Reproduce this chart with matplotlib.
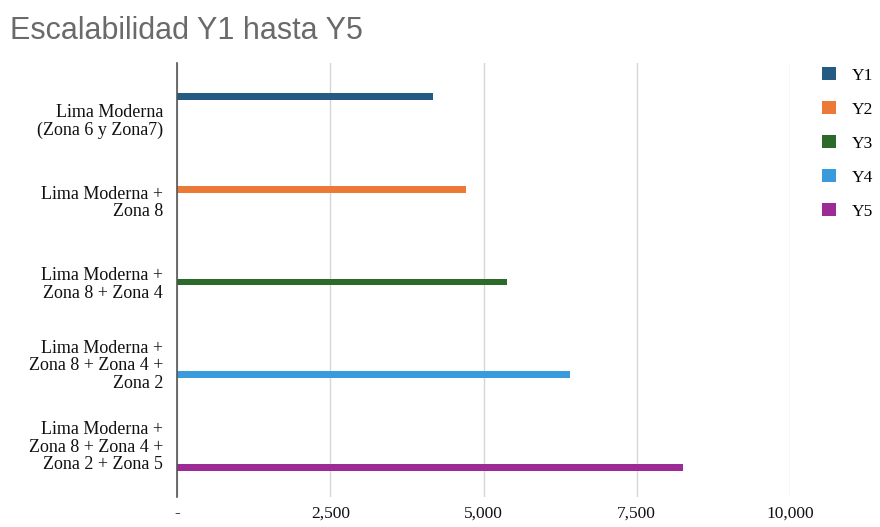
import matplotlib
matplotlib.use("Agg")
import matplotlib.pyplot as plt
import numpy as np

# Data
categories = [
    "Lima Moderna\n(Zona 6 y Zona7)",
    "Lima Moderna +\nZona 8",
    "Lima Moderna +\nZona 8 + Zona 4",
    "Lima Moderna +\nZona 8 + Zona 4 +\nZona 2",
    "Lima Moderna +\nZona 8 + Zona 4 +\nZona 2 + Zona 5",
]
series_names = ["Y1", "Y2", "Y3", "Y4", "Y5"]
y1 = [4180, 0, 0, 0, 0]
y2 = [0, 4720, 0, 0, 0]
y3 = [0, 0, 5380, 0, 0]
y4 = [0, 0, 0, 6410, 0]
y5 = [0, 0, 0, 0, 8250]
series_values = [y1, y2, y3, y4, y5]
colors = ["#245b82", "#ea7a36", "#2c6a2b", "#3a9bdc", "#9c2b95"]
x_ticks = [0, 2500, 5000, 7500, 10000]
x_tick_labels = ["-", "2,500", "5,000", "7,500", "10,000"]

serif = ["Liberation Serif", "DejaVu Serif"]

fig = plt.figure(figsize=(8.8, 5.27), dpi=100)
ax = fig.add_axes([177 / 880, 1 - 497 / 527, (790 - 177) / 880, (497 - 63) / 527])

pos = np.arange(len(categories))
slot = 0.138
bar_h = 0.085
handles = []
for k, (name, vals, col) in enumerate(zip(series_names, series_values, colors)):
    h = ax.barh(pos + (k - 2) * slot, vals, height=bar_h, color=col, label=name, zorder=3)
    handles.append(h)

ax.set_xlim(0, 10000)
ax.set_ylim(4.64, -0.69)
ax.set_xticks(x_ticks)
ax.set_xticklabels(x_tick_labels, fontfamily=serif, fontsize=12.5, color="#111111")
ax.set_yticks(pos)
ax.set_yticklabels(categories, fontfamily=serif, fontsize=13, color="#111111",
                   linespacing=1.05)
ax.tick_params(axis="x", length=0, pad=6)
ax.tick_params(axis="y", length=0, pad=10)

ax.grid(axis="x", color="#d6d6d6", linewidth=1.0, zorder=0)
for side in ["top", "right", "bottom"]:
    ax.spines[side].set_visible(False)
ax.spines["left"].set_color("#555555")
ax.spines["left"].set_linewidth(1.2)
ax.spines["left"].set_zorder(4)

fig.text(10 / 880, 1 - 31 / 527, "Escalabilidad Y1 hasta Y5",
         fontfamily=["Liberation Sans", "DejaVu Sans"], fontsize=22,
         color="#6a6a6a", va="center", ha="left")

fig.legend(handles=handles, labels=series_names, loc="upper left",
           bbox_to_anchor=(815 / 880, 1 - 60 / 527), frameon=False,
           prop={"family": serif, "size": 12.5},
           handlelength=0.8, handleheight=0.8, handletextpad=0.9,
           labelspacing=1.0, borderaxespad=0)

fig.savefig("out.png", dpi=100, facecolor="white")
